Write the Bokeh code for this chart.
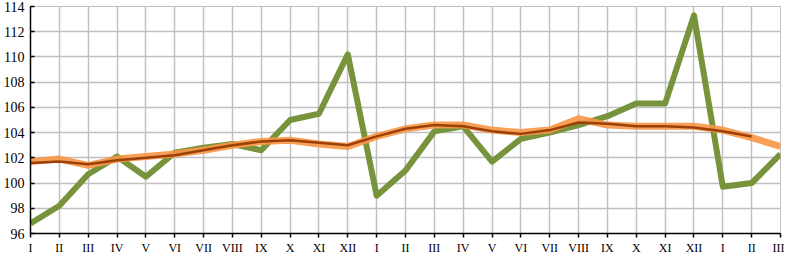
from bokeh.plotting import figure
from bokeh.models import Range1d, FixedTicker
from bokeh.embed import file_html
from bokeh.resources import INLINE

months = ["I", "II", "III", "IV", "V", "VI", "VII", "VIII", "IX", "X", "XI", "XII",
          "I", "II", "III", "IV", "V", "VI", "VII", "VIII", "IX", "X", "XI", "XII",
          "I", "II", "III"]

green = [96.8, 98.2, 100.7, 102.1, 100.5, 102.4, 102.8, 103.1, 102.6, 105.0, 105.5, 110.2,
         99.0, 101.0, 104.1, 104.5, 101.7, 103.5, 104.0, 104.6, 105.3, 106.3, 106.3, 113.3,
         99.7, 100.0, 102.3]

orange = [101.7, 101.9, 101.4, 101.9, 102.1, 102.3, 102.6, 103.0, 103.3, 103.4, 103.1, 102.9,
          103.7, 104.3, 104.6, 104.6, 104.2, 104.0, 104.2, 105.1, 104.6, 104.5, 104.5, 104.5,
          104.2, 103.6, 102.9]

brown = [101.6, 101.7, 101.5, 101.8, 102.0, 102.2, 102.6, 103.0, 103.3, 103.4, 103.2, 103.0,
         103.7, 104.3, 104.6, 104.5, 104.1, 103.9, 104.2, 104.8, 104.7, 104.5, 104.5, 104.4,
         104.1, 103.7]

y_ticks = [96, 98, 100, 102, 104, 106, 108, 110, 112, 114]

x = list(range(len(months)))

p = figure(width=784, height=257, output_backend="svg", toolbar_location=None,
           x_range=Range1d(0, len(months) - 1), y_range=Range1d(96, 114),
           min_border_left=0, min_border_right=4, min_border_top=6, min_border_bottom=0)

p.line(x, green, line_color="#77933C", line_width=6, line_join="round")
p.line(x, orange, line_color="#F79646", line_width=7, line_alpha=0.9, line_join="round")
p.line(x[:len(brown)], brown, line_color="#9C4008", line_width=2.5, line_join="round")

p.xaxis.ticker = FixedTicker(ticks=x)
p.xaxis.major_label_overrides = {i: m for i, m in enumerate(months)}
p.yaxis.ticker = FixedTicker(ticks=y_ticks)

for ax in (p.xaxis, p.yaxis):
    ax.axis_line_color = "black"
    ax.axis_line_width = 1.5
    ax.major_tick_line_color = "black"
    ax.major_tick_line_width = 1.5
    ax.minor_tick_line_color = None
    ax.major_label_text_font = "Liberation Serif"
    ax.major_label_text_color = "black"

p.yaxis.major_tick_in = 4
p.yaxis.major_tick_out = 0
p.yaxis.major_label_text_font_size = "14px"
p.yaxis.major_label_standoff = 6
p.xaxis.major_tick_in = 0
p.xaxis.major_tick_out = 4
p.xaxis.major_label_text_font_size = "12px"
p.xaxis.major_label_standoff = 3

p.xgrid.ticker = FixedTicker(ticks=x)
p.ygrid.ticker = FixedTicker(ticks=y_ticks)
for g in (p.xgrid, p.ygrid):
    g.grid_line_color = "#C0C0C0"
    g.grid_line_width = 1.5

p.outline_line_color = "#C0C0C0"
p.outline_line_width = 1
p.background_fill_color = "white"
p.border_fill_color = "white"

open("out.html", "w").write(file_html(p, INLINE))
